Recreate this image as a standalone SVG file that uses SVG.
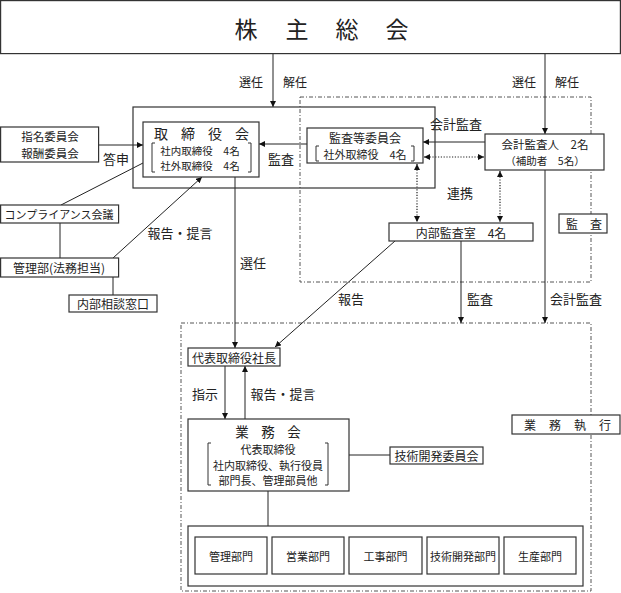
<svg xmlns="http://www.w3.org/2000/svg" width="621" height="593" viewBox="0 0 621 593">
<defs>
<marker id="ah" viewBox="0 0 10 10" refX="10" refY="5" markerWidth="6" markerHeight="6" orient="auto-start-reverse" markerUnits="userSpaceOnUse">
<path d="M0,0 L10,5 L0,10 z" fill="#111"/>
</marker>
<style>
text{font-family:"Noto Sans CJK JP","Noto Sans",sans-serif;fill:#222;text-anchor:middle;dominant-baseline:central}
.box{fill:#fff;stroke:#333;stroke-width:1.2}
.frame{fill:none;stroke:#333;stroke-width:1.2}
.ln{fill:none;stroke:#222;stroke-width:1}
.arr{fill:none;stroke:#222;stroke-width:1;marker-end:url(#ah)}
.dot{fill:none;stroke:#222;stroke-width:1.2;stroke-dasharray:1.2,1.6;marker-start:url(#ah);marker-end:url(#ah)}
.dash{fill:none;stroke:#555;stroke-width:1;stroke-dasharray:4,2,1,2}
.br{fill:none;stroke:#333;stroke-width:1}
.t13{font-size:13px}
.t12{font-size:12px}
.t115{font-size:11.5px}
.t11{font-size:11px}
.t10{font-size:10.5px}
</style>
</defs>

<!-- dashed regions -->
<g id="region-audit"><rect class="dash" x="300" y="97" width="291" height="185"/></g>
<g id="region-exec"><rect class="dash" x="181" y="323" width="410" height="268"/></g>

<!-- connectors -->
<g id="connectors">
<line class="arr" x1="273" y1="53" x2="273" y2="107"/>
<line class="arr" x1="545" y1="53" x2="545" y2="134"/>
<line class="arr" x1="99" y1="145" x2="143" y2="145"/>
<line class="arr" x1="307" y1="144" x2="259" y2="144"/>
<line class="arr" x1="485" y1="142" x2="423" y2="142"/>
<line class="dot" x1="424" y1="157" x2="484" y2="157"/>
<line class="dot" x1="417" y1="164" x2="417" y2="222"/>
<line class="dot" x1="500" y1="171" x2="500" y2="222"/>
<line class="ln" x1="61" y1="205" x2="143" y2="163"/>
<line class="ln" x1="60" y1="223" x2="60" y2="258"/>
<line class="arr" x1="113" y1="258" x2="202" y2="177"/>
<line class="ln" x1="113" y1="277" x2="113" y2="295"/>
<line class="arr" x1="235" y1="177" x2="235" y2="348"/>
<line class="arr" x1="395" y1="241" x2="275" y2="347"/>
<line class="arr" x1="461" y1="241" x2="461" y2="323"/>
<line class="arr" x1="545" y1="170" x2="545" y2="323"/>
<line class="arr" x1="225" y1="366" x2="225" y2="419"/>
<line class="arr" x1="245" y1="419" x2="245" y2="366"/>
<line class="ln" x1="349" y1="455" x2="390" y2="455"/>
<line class="ln" x1="268" y1="491" x2="268" y2="526"/>
</g>

<!-- labels -->
<g id="labels">
<text class="t12" x="251" y="81">選任</text>
<text class="t12" x="295" y="81">解任</text>
<text class="t12" x="524" y="81">選任</text>
<text class="t12" x="567" y="81">解任</text>
<text class="t13" x="116" y="158">答申</text>
<text class="t13" x="281" y="158">監査</text>
<text class="t13" x="456" y="123">会計監査</text>
<text class="t13" x="460" y="192">連携</text>
<text class="t13" x="180" y="232">報告・提言</text>
<text class="t13" x="253" y="262">選任</text>
<text class="t13" x="351" y="298">報告</text>
<text class="t13" x="480" y="298">監査</text>
<text class="t13" x="576" y="298">会計監査</text>
<text class="t13" x="205" y="393">指示</text>
<text class="t13" x="283" y="393">報告・提言</text>
</g>

<g id="shareholders">
<rect class="box" x="0.6" y="0.6" width="619.8" height="53"/>
<text style="font-size:23px" x="246 297 347 397" y="28">株主総会</text>
</g>

<g id="board-outer"><rect class="frame" x="133" y="107" width="302" height="81"/></g>

<g id="board">
<rect class="box" x="143" y="122" width="116" height="55"/>
<text style="font-size:14px" x="161 188 215 242" y="132.5">取締役会</text>
<path class="br" d="M155,143 h-3 v29 h3 M248,143 h3 v29 h-3"/>
<text class="t10" x="200" y="150">社内取締役　4名</text>
<text class="t10" x="200" y="165.5">社外取締役　4名</text>
</g>

<g id="nomination">
<rect class="box" x="0.6" y="127" width="98" height="35"/>
<text class="t115" x="50" y="136">指名委員会</text>
<text class="t115" x="50" y="153">報酬委員会</text>
</g>

<g id="compliance">
<rect class="box" x="0.6" y="205" width="118" height="18"/>
<text class="t11" x="59" y="214">コンプライアンス会議</text>
</g>

<g id="admin-legal">
<rect class="box" x="0.6" y="258" width="118" height="19"/>
<text class="t12" x="59" y="267.5">管理部(法務担当)</text>
</g>

<g id="consult">
<rect class="box" x="69" y="295" width="88" height="17"/>
<text class="t12" x="113" y="303.5">内部相談窓口</text>
</g>

<g id="audit-committee">
<rect class="box" x="307" y="128" width="116" height="35"/>
<text class="t12" x="365" y="137.5">監査等委員会</text>
<path class="br" d="M319,146 h-3 v15 h3 M411,146 h3 v15 h-3"/>
<text class="t11" x="365" y="153.5">社外取締役　4名</text>
</g>

<g id="accounting-auditor">
<rect class="box" x="485" y="134" width="119" height="36"/>
<text class="t115" x="545" y="144">会計監査人　2名</text>
<text class="t10" x="545" y="160.5">（補助者　5名）</text>
</g>

<g id="internal-audit">
<rect class="box" x="389" y="223" width="144" height="18"/>
<text class="t12" x="461" y="232">内部監査室　4名</text>
</g>

<g id="audit-tag">
<rect class="box" x="559" y="214" width="48" height="19"/>
<text class="t12" x="572 596" y="223.5">監査</text>
</g>

<g id="president">
<rect class="box" x="188" y="348" width="92" height="18"/>
<text class="t12" x="234" y="357">代表取締役社長</text>
</g>

<g id="exec-committee">
<rect class="box" x="188" y="419" width="161" height="72"/>
<text style="font-size:13.5px" x="242 268 294" y="430.5">業務会</text>
<path class="br" d="M211,443 h-3 v42 h3 M325,443 h3 v42 h-3"/>
<text class="t11" x="268" y="449">代表取締役</text>
<text class="t11" x="268" y="464.5">社内取締役、執行役員</text>
<text class="t11" x="268" y="480">部門長、管理部員他</text>
</g>

<g id="tech-committee">
<rect class="box" x="390" y="447" width="93" height="17"/>
<text class="t12" x="436.5" y="455.5">技術開発委員会</text>
</g>

<g id="exec-tag">
<rect class="box" x="512" y="415" width="108" height="19"/>
<text class="t12" x="530 555 580 605" y="424.5">業務執行</text>
</g>

<g id="departments">
<rect class="frame" x="188" y="526" width="395" height="60"/>
<g id="dept-admin"><rect class="box" x="195" y="537" width="72" height="37"/><text class="t11" x="231" y="555.5">管理部門</text></g>
<g id="dept-sales"><rect class="box" x="272" y="537" width="72" height="37"/><text class="t11" x="308" y="555.5">営業部門</text></g>
<g id="dept-construction"><rect class="box" x="349" y="537" width="73" height="37"/><text class="t11" x="385.5" y="555.5">工事部門</text></g>
<g id="dept-tech"><rect class="box" x="427" y="537" width="72" height="37"/><text class="t11" x="463" y="555.5">技術開発部門</text></g>
<g id="dept-production"><rect class="box" x="504" y="537" width="72" height="37"/><text class="t11" x="540" y="555.5">生産部門</text></g>
</g>
</svg>
